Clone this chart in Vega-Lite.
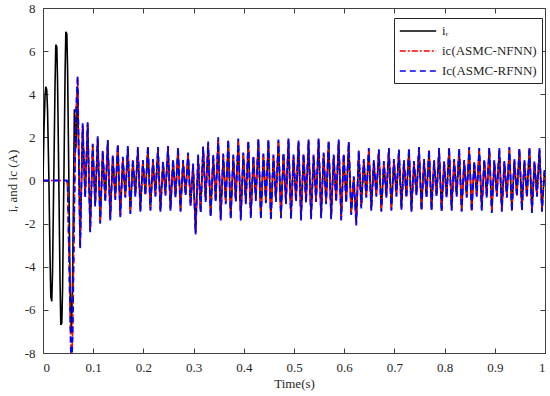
{
"$schema": "https://vega.github.io/schema/vega-lite/v6.json",
"width": 502, "height": 345,
"autosize": {"type": "none"},
"padding": {"left": 43, "top": 8, "right": 5, "bottom": 43},
"background": "white",
"config": {"view": {"stroke": "#404040", "strokeWidth": 1}, "font": "Liberation Serif"},
"data": {"values": [
{"t":0,"a":0,"b":0,"c":0},
{"t":0.002,"a":2.4,"b":0,"c":0},
{"t":0.004,"a":3.9,"b":0,"c":0},
{"t":0.0055,"a":4.35,"b":0,"c":0},
{"t":0.0075,"a":4.2,"b":0,"c":0},
{"t":0.009,"a":3.3,"b":0,"c":0},
{"t":0.0115,"a":0.4,"b":0,"c":0},
{"t":0.014,"a":-3.5,"b":0,"c":0},
{"t":0.0155,"a":-5.4,"b":0,"c":0},
{"t":0.0175,"a":-5.6,"b":0,"c":0},
{"t":0.019,"a":-4.2,"b":0,"c":0},
{"t":0.0215,"a":0.2,"b":0,"c":0},
{"t":0.024,"a":4.5,"b":0,"c":0},
{"t":0.0255,"a":6.3,"b":0,"c":0},
{"t":0.0275,"a":6.2,"b":0,"c":0},
{"t":0.029,"a":4.6,"b":0,"c":0},
{"t":0.0315,"a":0,"b":0,"c":0},
{"t":0.034,"a":-4.8,"b":0,"c":0},
{"t":0.0355,"a":-6.7,"b":0,"c":0},
{"t":0.0375,"a":-6.6,"b":0,"c":0},
{"t":0.039,"a":-5.0,"b":0,"c":0},
{"t":0.0415,"a":-0.1,"b":0,"c":0},
{"t":0.044,"a":5.0,"b":0,"c":0},
{"t":0.0455,"a":6.9,"b":0,"c":0},
{"t":0.0475,"a":6.8,"b":0,"c":0},
{"t":0.049,"a":5.1,"b":-0.3,"c":-0.2},
{"t":0.0515,"a":0.1,"b":-3.1,"c":-3.0},
{"t":0.054,"a":-5.0,"b":-6.2,"c":-6.1},
{"t":0.0565,"a":-7.1,"b":-8.9,"c":-9.0},
{"t":0.059,"a":-4.5,"b":-7.0,"c":-7.2},
{"t":0.0625,"a":3.3,"b":-1.0,"c":-1.1},
{"t":0.0655,"a":1.5,"b":3.0,"c":3.1},
{"t":0.069,"a":4.3,"b":4.75,"c":4.85},
{"t":0.074,"a":-3.0,"b":-3.1,"c":-3.16},
{"t":0.079,"a":2.5,"b":2.6,"c":2.65},
{"t":0.084,"a":-0.7,"b":-0.75,"c":-0.8},
{"t":0.089,"a":2.6,"b":2.65,"c":2.7},
{"t":0.094,"a":-2.3,"b":-2.35,"c":-2.4},
{"t":0.099,"a":1.6,"b":1.65,"c":1.7},
{"t":0.104,"a":-1.1,"b":-1.15,"c":-1.2},
{"t":0.109,"a":1.95,"b":2.0,"c":2.05},
{"t":0.114,"a":-1.9,"b":-1.95,"c":-2.0},
{"t":0.119,"a":1.3,"b":1.35,"c":1.4},
{"t":0.124,"a":-0.9,"b":-0.95,"c":-1.0},
{"t":0.129,"a":1.8,"b":1.85,"c":1.88},
{"t":0.134,"a":-1.75,"b":-1.8,"c":-1.85},
{"t":0.139,"a":1.1,"b":1.15,"c":1.2},
{"t":0.144,"a":-0.8,"b":-0.85,"c":-0.9},
{"t":0.149,"a":1.6,"b":1.65,"c":1.7},
{"t":0.154,"a":-1.6,"b":-1.65,"c":-1.7},
{"t":0.159,"a":1.0,"b":1.05,"c":1.1},
{"t":0.164,"a":-0.7,"b":-0.75,"c":-0.8},
{"t":0.169,"a":1.5,"b":1.55,"c":1.6},
{"t":0.174,"a":-1.45,"b":-1.5,"c":-1.55},
{"t":0.179,"a":0.9,"b":0.95,"c":1.0},
{"t":0.184,"a":-0.65,"b":-0.7,"c":-0.75},
{"t":0.189,"a":1.45,"b":1.5,"c":1.55},
{"t":0.194,"a":-1.35,"b":-1.4,"c":-1.45},
{"t":0.199,"a":0.85,"b":0.9,"c":0.95},
{"t":0.204,"a":-0.6,"b":-0.65,"c":-0.7},
{"t":0.209,"a":1.5,"b":1.55,"c":1.6},
{"t":0.214,"a":-1.3,"b":-1.35,"c":-1.4},
{"t":0.219,"a":0.9,"b":0.95,"c":1.0},
{"t":0.224,"a":-0.65,"b":-0.7,"c":-0.75},
{"t":0.229,"a":1.45,"b":1.5,"c":1.55},
{"t":0.234,"a":-1.35,"b":-1.4,"c":-1.45},
{"t":0.239,"a":0.8,"b":0.85,"c":0.9},
{"t":0.244,"a":-0.6,"b":-0.65,"c":-0.7},
{"t":0.249,"a":1.5,"b":1.55,"c":1.6},
{"t":0.254,"a":-1.3,"b":-1.35,"c":-1.4},
{"t":0.259,"a":0.9,"b":0.95,"c":1.0},
{"t":0.264,"a":-0.7,"b":-0.75,"c":-0.8},
{"t":0.269,"a":1.45,"b":1.5,"c":1.55},
{"t":0.274,"a":-1.35,"b":-1.4,"c":-1.45},
{"t":0.279,"a":0.85,"b":0.9,"c":0.95},
{"t":0.284,"a":-0.6,"b":-0.65,"c":-0.7},
{"t":0.289,"a":1.2,"b":1.25,"c":1.3},
{"t":0.294,"a":-1.1,"b":-1.15,"c":-1.2},
{"t":0.299,"a":0.7,"b":0.75,"c":0.8},
{"t":0.304,"a":-2.4,"b":-2.45,"c":-2.5},
{"t":0.309,"a":1.1,"b":1.15,"c":1.2},
{"t":0.314,"a":-1.4,"b":-1.45,"c":-1.5},
{"t":0.319,"a":1.5,"b":1.55,"c":1.57},
{"t":0.324,"a":-0.9,"b":-0.95,"c":-1.0},
{"t":0.329,"a":1.7,"b":1.75,"c":1.81},
{"t":0.334,"a":-1.6,"b":-1.65,"c":-1.7},
{"t":0.339,"a":1.1,"b":1.15,"c":1.2},
{"t":0.344,"a":-0.9,"b":-0.95,"c":-1.0},
{"t":0.349,"a":1.9,"b":1.95,"c":2.0},
{"t":0.354,"a":-1.75,"b":-1.8,"c":-1.85},
{"t":0.359,"a":1.15,"b":1.2,"c":1.25},
{"t":0.364,"a":-1.0,"b":-1.05,"c":-1.1},
{"t":0.369,"a":1.8,"b":1.85,"c":1.9},
{"t":0.374,"a":-1.7,"b":-1.75,"c":-1.8},
{"t":0.379,"a":1.1,"b":1.15,"c":1.2},
{"t":0.384,"a":-0.9,"b":-0.95,"c":-1.0},
{"t":0.389,"a":1.85,"b":1.9,"c":1.95},
{"t":0.394,"a":-1.75,"b":-1.8,"c":-1.85},
{"t":0.399,"a":1.2,"b":1.25,"c":1.3},
{"t":0.404,"a":-1.0,"b":-1.05,"c":-1.1},
{"t":0.409,"a":1.75,"b":1.8,"c":1.85},
{"t":0.414,"a":-1.65,"b":-1.7,"c":-1.75},
{"t":0.419,"a":1.05,"b":1.1,"c":1.15},
{"t":0.424,"a":-0.85,"b":-0.9,"c":-0.95},
{"t":0.429,"a":1.85,"b":1.9,"c":1.95},
{"t":0.434,"a":-1.7,"b":-1.75,"c":-1.8},
{"t":0.439,"a":1.15,"b":1.2,"c":1.25},
{"t":0.444,"a":-0.95,"b":-1.0,"c":-1.05},
{"t":0.449,"a":1.8,"b":1.85,"c":1.9},
{"t":0.454,"a":-1.75,"b":-1.8,"c":-1.85},
{"t":0.459,"a":1.1,"b":1.15,"c":1.2},
{"t":0.464,"a":-0.9,"b":-0.95,"c":-1.0},
{"t":0.469,"a":1.8,"b":1.85,"c":1.9},
{"t":0.474,"a":-1.65,"b":-1.7,"c":-1.75},
{"t":0.479,"a":1.2,"b":1.25,"c":1.3},
{"t":0.484,"a":-1.0,"b":-1.05,"c":-1.1},
{"t":0.489,"a":1.85,"b":1.9,"c":1.95},
{"t":0.494,"a":-1.7,"b":-1.75,"c":-1.8},
{"t":0.499,"a":1.1,"b":1.15,"c":1.2},
{"t":0.504,"a":-0.9,"b":-0.95,"c":-1.0},
{"t":0.509,"a":1.75,"b":1.8,"c":1.85},
{"t":0.514,"a":-1.75,"b":-1.8,"c":-1.85},
{"t":0.519,"a":1.15,"b":1.2,"c":1.25},
{"t":0.524,"a":-0.95,"b":-1.0,"c":-1.05},
{"t":0.529,"a":1.8,"b":1.85,"c":1.9},
{"t":0.534,"a":-1.7,"b":-1.75,"c":-1.8},
{"t":0.539,"a":1.1,"b":1.15,"c":1.2},
{"t":0.544,"a":-0.9,"b":-0.95,"c":-1.0},
{"t":0.549,"a":1.85,"b":1.9,"c":1.95},
{"t":0.554,"a":-1.65,"b":-1.7,"c":-1.75},
{"t":0.559,"a":1.2,"b":1.25,"c":1.3},
{"t":0.564,"a":-1.0,"b":-1.05,"c":-1.1},
{"t":0.569,"a":1.75,"b":1.8,"c":1.85},
{"t":0.574,"a":-1.7,"b":-1.75,"c":-1.8},
{"t":0.579,"a":1.1,"b":1.15,"c":1.2},
{"t":0.584,"a":-0.9,"b":-0.95,"c":-1.0},
{"t":0.589,"a":1.8,"b":1.85,"c":1.9},
{"t":0.594,"a":-1.75,"b":-1.8,"c":-1.85},
{"t":0.599,"a":1.15,"b":1.2,"c":1.25},
{"t":0.604,"a":-0.95,"b":-1.0,"c":-1.05},
{"t":0.609,"a":1.7,"b":1.75,"c":1.8},
{"t":0.614,"a":-1.5,"b":-1.55,"c":-1.6},
{"t":0.619,"a":0.1,"b":0.15,"c":0.2},
{"t":0.624,"a":-1.95,"b":-2.0,"c":-2.08},
{"t":0.629,"a":1.3,"b":1.35,"c":1.4},
{"t":0.634,"a":-1.2,"b":-1.25,"c":-1.3},
{"t":0.639,"a":0.9,"b":0.95,"c":1.0},
{"t":0.644,"a":-0.7,"b":-0.75,"c":-0.8},
{"t":0.649,"a":1.4,"b":1.45,"c":1.5},
{"t":0.654,"a":-1.3,"b":-1.35,"c":-1.4},
{"t":0.659,"a":0.85,"b":0.9,"c":0.95},
{"t":0.664,"a":-0.65,"b":-0.7,"c":-0.75},
{"t":0.669,"a":1.35,"b":1.4,"c":1.45},
{"t":0.674,"a":-1.35,"b":-1.4,"c":-1.45},
{"t":0.679,"a":0.8,"b":0.85,"c":0.9},
{"t":0.684,"a":-0.7,"b":-0.75,"c":-0.8},
{"t":0.689,"a":1.4,"b":1.45,"c":1.5},
{"t":0.694,"a":-1.3,"b":-1.35,"c":-1.4},
{"t":0.699,"a":0.9,"b":0.95,"c":1.0},
{"t":0.704,"a":-0.65,"b":-0.7,"c":-0.75},
{"t":0.709,"a":1.35,"b":1.4,"c":1.45},
{"t":0.714,"a":-1.25,"b":-1.3,"c":-1.35},
{"t":0.719,"a":0.85,"b":0.9,"c":0.95},
{"t":0.724,"a":-0.7,"b":-0.75,"c":-0.8},
{"t":0.729,"a":1.4,"b":1.45,"c":1.5},
{"t":0.734,"a":-1.35,"b":-1.4,"c":-1.45},
{"t":0.739,"a":0.8,"b":0.85,"c":0.9},
{"t":0.744,"a":-0.6,"b":-0.65,"c":-0.7},
{"t":0.749,"a":1.45,"b":1.5,"c":1.55},
{"t":0.754,"a":-1.3,"b":-1.35,"c":-1.4},
{"t":0.759,"a":0.9,"b":0.95,"c":1.0},
{"t":0.764,"a":-0.7,"b":-0.75,"c":-0.8},
{"t":0.769,"a":1.35,"b":1.4,"c":1.45},
{"t":0.774,"a":-1.3,"b":-1.35,"c":-1.4},
{"t":0.779,"a":0.85,"b":0.9,"c":0.95},
{"t":0.784,"a":-0.65,"b":-0.7,"c":-0.75},
{"t":0.789,"a":1.4,"b":1.45,"c":1.5},
{"t":0.794,"a":-1.35,"b":-1.4,"c":-1.45},
{"t":0.799,"a":0.8,"b":0.85,"c":0.9},
{"t":0.804,"a":-0.7,"b":-0.75,"c":-0.8},
{"t":0.809,"a":1.45,"b":1.5,"c":1.55},
{"t":0.814,"a":-1.3,"b":-1.35,"c":-1.4},
{"t":0.819,"a":0.9,"b":0.95,"c":1.0},
{"t":0.824,"a":-0.65,"b":-0.7,"c":-0.75},
{"t":0.829,"a":1.4,"b":1.45,"c":1.5},
{"t":0.834,"a":-1.35,"b":-1.4,"c":-1.45},
{"t":0.839,"a":0.85,"b":0.9,"c":0.95},
{"t":0.844,"a":-0.7,"b":-0.75,"c":-0.8},
{"t":0.849,"a":1.45,"b":1.5,"c":1.55},
{"t":0.854,"a":-1.35,"b":-1.4,"c":-1.45},
{"t":0.859,"a":0.8,"b":0.85,"c":0.9},
{"t":0.864,"a":-0.65,"b":-0.7,"c":-0.75},
{"t":0.869,"a":1.4,"b":1.45,"c":1.5},
{"t":0.874,"a":-1.3,"b":-1.35,"c":-1.4},
{"t":0.879,"a":0.9,"b":0.95,"c":1.0},
{"t":0.884,"a":-0.7,"b":-0.75,"c":-0.8},
{"t":0.889,"a":1.45,"b":1.5,"c":1.55},
{"t":0.894,"a":-1.4,"b":-1.45,"c":-1.5},
{"t":0.899,"a":0.85,"b":0.9,"c":0.95},
{"t":0.904,"a":-0.65,"b":-0.7,"c":-0.75},
{"t":0.909,"a":1.4,"b":1.45,"c":1.5},
{"t":0.914,"a":-1.35,"b":-1.4,"c":-1.45},
{"t":0.919,"a":0.8,"b":0.85,"c":0.9},
{"t":0.924,"a":-0.7,"b":-0.75,"c":-0.8},
{"t":0.929,"a":1.45,"b":1.5,"c":1.55},
{"t":0.934,"a":-1.35,"b":-1.4,"c":-1.45},
{"t":0.939,"a":0.9,"b":0.95,"c":1.0},
{"t":0.944,"a":-0.65,"b":-0.7,"c":-0.75},
{"t":0.949,"a":1.4,"b":1.45,"c":1.5},
{"t":0.954,"a":-1.3,"b":-1.35,"c":-1.4},
{"t":0.959,"a":0.85,"b":0.9,"c":0.95},
{"t":0.964,"a":-0.7,"b":-0.75,"c":-0.8},
{"t":0.969,"a":1.45,"b":1.5,"c":1.55},
{"t":0.974,"a":-1.4,"b":-1.45,"c":-1.5},
{"t":0.979,"a":0.8,"b":0.85,"c":0.9},
{"t":0.984,"a":-0.65,"b":-0.7,"c":-0.75},
{"t":0.989,"a":1.4,"b":1.45,"c":1.5},
{"t":0.994,"a":-1.35,"b":-1.4,"c":-1.45},
{"t":0.999,"a":0.4,"b":0.45,"c":0.5}
]},
"transform": [{"fold": ["a", "b", "c"], "as": ["s", "v"]}],
"resolve": {"axis": {"x": "independent", "y": "independent"}},
"layer": [
{
"transform": [{"filter": "datum.s == 'a'"}],
"mark": {"type": "line", "clip": true, "strokeWidth": 1.6},
"encoding": {
"x": {"field": "t", "type": "quantitative", "scale": {"domain": [0, 1], "nice": false, "zero": false},
"axis": {"orient": "bottom", "values": [0,0.1,0.2,0.3,0.4,0.5,0.6,0.7,0.8,0.9,1], "format": "~g", "title": "Time(s)", "domain": false, "grid": false, "tickSize": -5, "tickColor": "#404040", "labelPadding": 13, "labelFont": "Liberation Serif", "labelFontSize": 13, "labelColor": "#262626", "titleFont": "Liberation Serif", "titleFontSize": 13, "titleFontWeight": "normal", "titleColor": "#262626", "titlePadding": 3}},
"y": {"field": "v", "type": "quantitative", "scale": {"domain": [-8, 8], "nice": false, "zero": false},
"axis": {"orient": "left", "values": [-8,-6,-4,-2,0,2,4,6,8], "labelExpr": "datum.value < 0 ? '-' + abs(datum.value) : '' + datum.value", "title": "iᵣ and ic (A)", "domain": false, "grid": false, "tickSize": -5, "tickColor": "#404040", "labelPadding": 13, "labelFont": "Liberation Serif", "labelFontSize": 13, "labelColor": "#262626", "titleFont": "Liberation Serif", "titleFontSize": 13, "titleFontWeight": "normal", "titleColor": "#262626", "titlePadding": 5}},
"color": {"field": "s", "type": "nominal", "scale": {"domain": ["a","b","c"], "range": ["#000000","#ff0000","#0000ff"]},
"legend": {"title": null, "orient": "none", "legendX": 351, "legendY": 10, "labelExpr": "datum.value == 'a' ? 'iᵣ' : datum.value == 'b' ? 'ic(ASMC-NFNN)' : 'Ic(ASMC-RFNN)'", "symbolType": "M-2.6,0H2.6", "symbolSize": 196, "symbolOffset": 11, "symbolStrokeWidth": 1.5, "labelFont": "Liberation Serif", "labelFontSize": 13, "labelColor": "#262626", "fillColor": "white", "strokeColor": "#262626", "padding": 5, "rowPadding": 5, "labelOffset": 16}},
"strokeDash": {"field": "s", "type": "nominal", "scale": {"domain": ["a","b","c"], "range": [[1,0],[6,2,2,2],[6,4]]},
"legend": {"title": null, "orient": "none", "legendX": 351, "legendY": 10, "labelExpr": "datum.value == 'a' ? 'iᵣ' : datum.value == 'b' ? 'ic(ASMC-NFNN)' : 'Ic(ASMC-RFNN)'", "symbolType": "M-2.6,0H2.6", "symbolSize": 196, "symbolOffset": 11, "symbolStrokeWidth": 1.5, "labelFont": "Liberation Serif", "labelFontSize": 13, "labelColor": "#262626", "fillColor": "white", "strokeColor": "#262626", "padding": 5, "rowPadding": 5, "labelOffset": 16}}
}
},
{
"transform": [{"filter": "datum.s == 'b'"}],
"mark": {"type": "line", "clip": true, "strokeWidth": 1.6},
"encoding": {
"x": {"field": "t", "type": "quantitative", "axis": null},
"y": {"field": "v", "type": "quantitative", "axis": null},
"color": {"field": "s", "type": "nominal"},
"strokeDash": {"field": "s", "type": "nominal"}
}
},
{
"transform": [{"filter": "datum.s == 'c'"}],
"mark": {"type": "line", "clip": true, "strokeWidth": 1.8},
"encoding": {
"x": {"field": "t", "type": "quantitative", "axis": null},
"y": {"field": "v", "type": "quantitative", "axis": null},
"color": {"field": "s", "type": "nominal"},
"strokeDash": {"field": "s", "type": "nominal"}
}
},
{
"transform": [{"filter": "datum.s == 'a' && datum.t == 0"}],
"mark": {"type": "point", "opacity": 0},
"encoding": {
"x": {"field": "t", "type": "quantitative", "axis": {"orient": "top", "values": [0,0.1,0.2,0.3,0.4,0.5,0.6,0.7,0.8,0.9,1], "labels": false, "title": null, "domain": false, "grid": false, "tickSize": -5, "tickColor": "#404040"}},
"y": {"field": "v", "type": "quantitative", "axis": {"orient": "right", "values": [-8,-6,-4,-2,0,2,4,6,8], "labels": false, "title": null, "domain": false, "grid": false, "tickSize": -5, "tickColor": "#404040"}}
}
}
]
}
